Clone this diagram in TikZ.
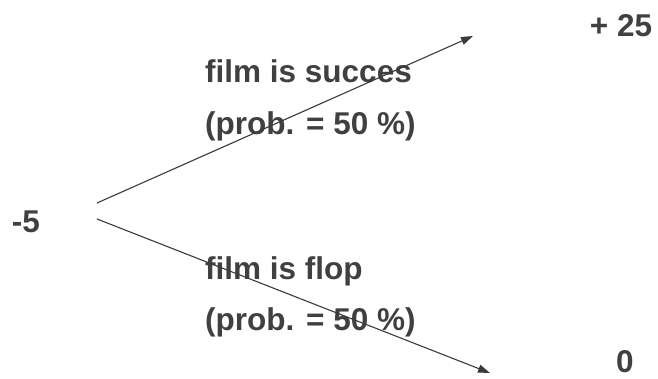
\documentclass[tikz,border=0pt]{standalone}
\usepackage{fontspec}
\setmainfont{Liberation Sans}
\usetikzlibrary{arrows.meta}
\definecolor{inkgray}{HTML}{404040}

\begin{document}
\begin{tikzpicture}[
    x=1pt, y=-1pt,
    every node/.style={font=\fontsize{31.5}{38}\selectfont\bfseries, text=inkgray, inner sep=0pt},
    payoff/.style={anchor=base},
    label/.style={anchor=base west},
    branch/.style={-{Triangle[length=12pt,width=8pt]}, line width=1.1pt, draw=inkgray!90!black}
]
\useasboundingbox (0,0) rectangle (658,378);
% root and outcomes
\node[payoff] (root) at (26,232) {-5};
\node[payoff] (win) at (621,36) {+ 25};
\node[payoff] (loss) at (625,372) {0};
% branch end points
\coordinate (upstart) at (97,203);
\coordinate (downstart) at (97,219);
\coordinate (upend) at (473,36);
\coordinate (downend) at (490,373);
% branch texts
\node[label] (succes) at (205,82) {film is succes};
\node[label] (succesprob) at (205,134) {(prob. = 50 \%)};
\node[label] (flop) at (205,279) {film is flop};
\node[label] (flopprob) at (205,330) {(prob. = 50 \%)};
\draw[branch] (upstart) -- (upend);
\draw[branch] (downstart) -- (downend);
\end{tikzpicture}
\end{document}
